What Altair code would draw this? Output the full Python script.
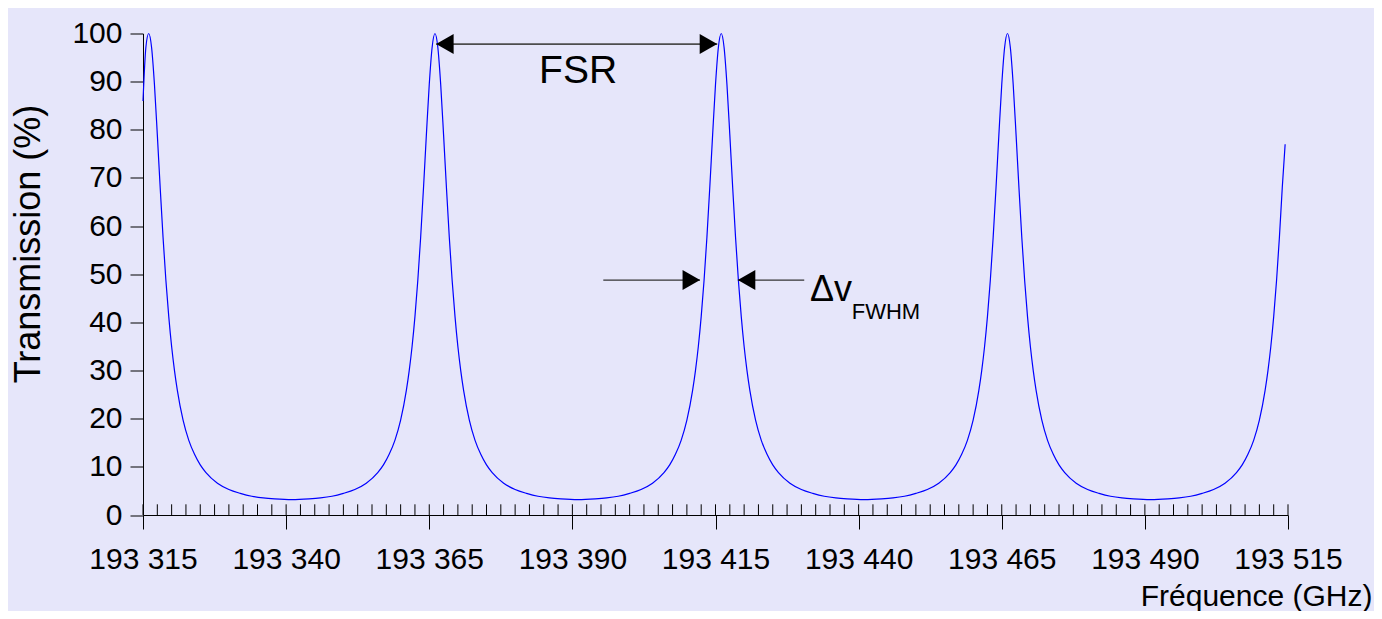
import altair as alt
import pandas as pd

# ---- values ----
peak_centres = [193316, 193366, 193416, 193466, 193516]
# distance from a peak (GHz) and transmission read at that distance (%)
peak_offsets = [0, 0.5, 1, 1.5, 2, 2.5, 3, 3.5, 4, 4.5, 5, 6, 7, 8, 9, 10, 12, 14, 16, 18, 20, 22, 25]
peak_profile = [100, 97.1, 89.4, 79.0, 68.0, 57.7, 48.7, 41.2, 35.0, 30.0, 25.9, 19.7, 15.5, 12.6, 10.4, 8.8,
                6.6, 5.3, 4.5, 3.9, 3.55, 3.35, 3.2]
start_point = (193315, 86)
end_point = (193514.5, 77)

x_major_ticks = [193315, 193340, 193365, 193390, 193415, 193440, 193465, 193490, 193515]
x_minor_ticks = [193315 + 2.5 * i for i in range(81)]
y_ticks = [0, 10, 20, 30, 40, 50, 60, 70, 80, 90, 100]

fsr_line = {"x1": [193366.2], "x2": [193415.3], "y": [97.8]}
fwhm_lines = {"x1": [193395.4, 193418.9], "x2": [193412.3, 193430.5], "y": [48.8, 48.8]}
left_heads = {"x": [193366.2, 193418.9], "y": [97.8, 48.8]}
right_heads = {"x": [193415.3, 193412.3], "y": [97.8, 48.8]}
labels_big = {"x": [193391], "y": [89.7], "text": ["FSR"]}
labels_dv = {"x": [193431.5], "y": [44.5], "text": ["Δv"]}
labels_sub = {"x": [193438.8], "y": [40.7], "text": ["FWHM"]}

# ---- build the curve table ----
pts = {start_point[0]: start_point[1]}
for p in peak_centres:
    for o, v in zip(peak_offsets, peak_profile):
        for s in (-1, 1):
            x = p + s * o
            if start_point[0] < x < end_point[0]:
                pts[x] = v
pts[end_point[0]] = end_point[1]
curve = pd.DataFrame(sorted(pts.items()), columns=["f", "t"])

FONT = "Liberation Sans"
W, H = 1145, 481.5

xscale = alt.Scale(domain=[193315, 193515], nice=False, zero=False)
yscale = alt.Scale(domain=[0, 100], nice=False)

line = alt.Chart(curve).mark_line(color="#0000ff", strokeWidth=1.2, interpolate="monotone").encode(
    x=alt.X("f:Q", scale=xscale, axis=alt.Axis(
        values=x_major_ticks, tickSize=14, labelPadding=15, labelFontSize=30, labelFont=FONT,
        labelColor="black", labelFlush=False, labelOverlap=False,
        labelExpr="replace(format(datum.value, ','), ',', ' ')",
        domainColor="black", tickColor="black", grid=False,
        title="Fréquence (GHz)", titleFont=FONT, titleFontSize=30, titleFontWeight="normal",
        titleColor="black", titleX=1229, titleY=90, titleAlign="right", titleBaseline="alphabetic")),
    y=alt.Y("t:Q", scale=yscale, axis=alt.Axis(
        values=y_ticks, tickSize=13, labelPadding=8, labelFontSize=30, labelFont=FONT,
        labelColor="black", labelFlush=False, labelOverlap=False, format="d",
        domainColor="black", tickColor="black", grid=False,
        title="Transmission (%)", titleFont=FONT, titleFontSize=36, titleFontWeight="normal",
        titleColor="black", titleX=-115, titleY=210, titleAlign="center", titleBaseline="middle")),
)

minor = alt.Chart(pd.DataFrame({"f": x_minor_ticks})).mark_rule(color="black", strokeWidth=1).encode(
    x=alt.X("f:Q", scale=xscale), y=alt.value(H - 10.7), y2=alt.value(H))

fsr = alt.Chart(pd.DataFrame(fsr_line)).mark_rule(color="#4d4d4d", strokeWidth=1.6).encode(
    x=alt.X("x1:Q", scale=xscale), x2="x2:Q", y=alt.Y("y:Q", scale=yscale))
fwhm = alt.Chart(pd.DataFrame(fwhm_lines)).mark_rule(color="#333333", strokeWidth=1.2).encode(
    x=alt.X("x1:Q", scale=xscale), x2="x2:Q", y=alt.Y("y:Q", scale=yscale))

lh = alt.Chart(pd.DataFrame(left_heads)).mark_point(
    shape="M0,0L1.75,-1L1.75,1Z", filled=True, color="black", opacity=1, size=400, strokeWidth=0).encode(
    x=alt.X("x:Q", scale=xscale), y=alt.Y("y:Q", scale=yscale))
rh = alt.Chart(pd.DataFrame(right_heads)).mark_point(
    shape="M0,0L-1.75,-1L-1.75,1Z", filled=True, color="black", opacity=1, size=400, strokeWidth=0).encode(
    x=alt.X("x:Q", scale=xscale), y=alt.Y("y:Q", scale=yscale))

t_fsr = alt.Chart(pd.DataFrame(labels_big)).mark_text(
    font=FONT, fontSize=39, color="black", align="center", baseline="alphabetic").encode(
    x=alt.X("x:Q", scale=xscale), y=alt.Y("y:Q", scale=yscale), text="text:N")
t_dv = alt.Chart(pd.DataFrame(labels_dv)).mark_text(
    font=FONT, fontSize=36, color="black", align="left", baseline="alphabetic").encode(
    x=alt.X("x:Q", scale=xscale), y=alt.Y("y:Q", scale=yscale), text="text:N")
t_sub = alt.Chart(pd.DataFrame(labels_sub)).mark_text(
    font=FONT, fontSize=22, color="black", align="left", baseline="alphabetic").encode(
    x=alt.X("x:Q", scale=xscale), y=alt.Y("y:Q", scale=yscale), text="text:N")

chart = alt.layer(minor, line, fsr, fwhm, lh, rh, t_fsr, t_dv, t_sub).properties(
    width=W, height=H,
    autosize=alt.AutoSizeParams(type="none"),
    padding={"left": 135, "top": 25.5, "right": 86, "bottom": 96},
    background="#e6e6fa",
).configure_view(stroke=None)

chart.save("out.html", embed_options={"renderer": "svg", "actions": False})
